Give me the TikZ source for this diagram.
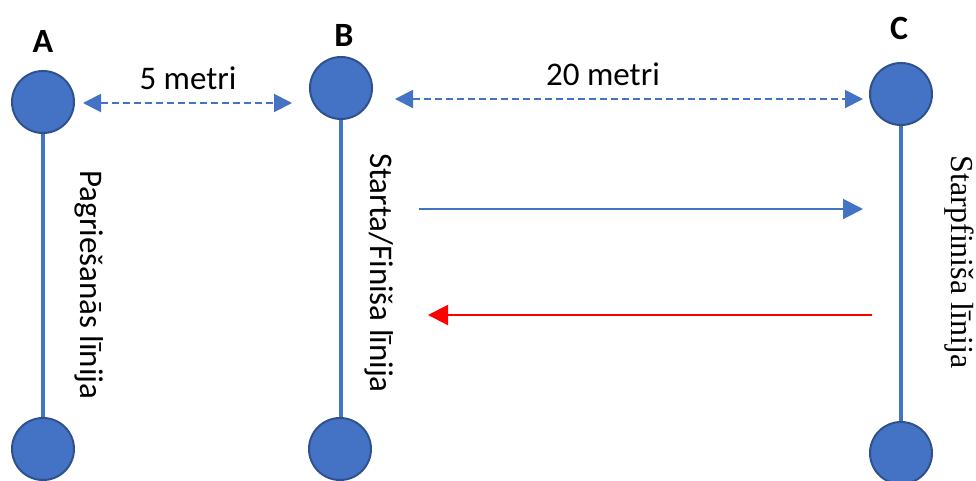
\documentclass[tikz,border=0pt]{standalone}
\usepackage{fontspec}
\setmainfont{Carlito}
\newfontfamily\timesfont{Liberation Serif}
\usetikzlibrary{arrows.meta}
\definecolor{cblue}{HTML}{4472C4}
\definecolor{cedge}{HTML}{2F528F}
\definecolor{cred}{HTML}{FF0000}
\begin{document}
\begin{tikzpicture}[x=0.75pt,y=-0.75pt,
  post/.style={circle,draw=cedge,fill=cblue,line width=1.5pt,minimum size=46.5pt,inner sep=0pt},
  pole/.style={draw=cblue,line width=3.6pt},
  lbl/.style={font=\fontsize{25.5}{30}\selectfont\bfseries},
  txt/.style={font=\fontsize{24.75}{30}\selectfont,inner sep=0pt},
  dist/.style={draw=cblue,line width=1.5pt,dash pattern=on 5.25pt off 3pt,
    {Triangle[length=13.5pt,width=13.5pt]}-{Triangle[length=13.5pt,width=13.5pt]}},
  run/.style={line width=1.5pt,-{Triangle[length=15pt,width=15pt]}}]
\useasboundingbox (0,0) rectangle (976,480);
% posts
\node[post] (At) at (43,102) {};
\node[post] (Ab) at (43,449) {};
\node[post] (Bt) at (341,88) {};
\node[post] (Bb) at (340,449) {};
\node[post] (Ct) at (901,94) {};
\node[post] (Cb) at (901,453) {};
\draw[pole] (At.south) -- (Ab.north);
\draw[pole] (Bt.south) -- (Bt.south |- Bb.north);
\draw[pole] (Ct.south) -- (Ct.south |- Cb.north);
% labels
\node[lbl] (LA) at (43,41) {A};
\node[lbl] (LB) at (344,35) {B};
\node[lbl] (LC) at (899,28) {C};
% distance arrows
\coordinate (d1a) at (83,103);
\coordinate (d1b) at (292,103);
\coordinate (d2a) at (395,99);
\coordinate (d2b) at (863,99);
\draw[dist] (d1a) -- (d1b);
\draw[dist] (d2a) -- (d2b);
\node[txt,anchor=base] (m5) at (188,89) {5 metri};
\node[txt,anchor=base] (m20) at (603,85) {20 metri};
% run arrows
\coordinate (r1a) at (419,209);
\coordinate (r1b) at (863,209);
\coordinate (r2a) at (872,315);
\coordinate (r2b) at (428,315);
\draw[run,draw=cblue,fill=cblue] (r1a) -- (r1b);
\draw[run,draw=cred,fill=cred] (r2a) -- (r2b);
% line names
\node[txt,rotate=-90] (tA) at (89,285) {Pagriešanās līnija};
\node[txt,rotate=-90] (tB) at (379,273) {Starta/Finiša līnija};
\node[txt,rotate=-90,font=\fontsize{24}{28}\timesfont] (tC) at (959,262) {Starpfiniša līnija};
\end{tikzpicture}
\end{document}
